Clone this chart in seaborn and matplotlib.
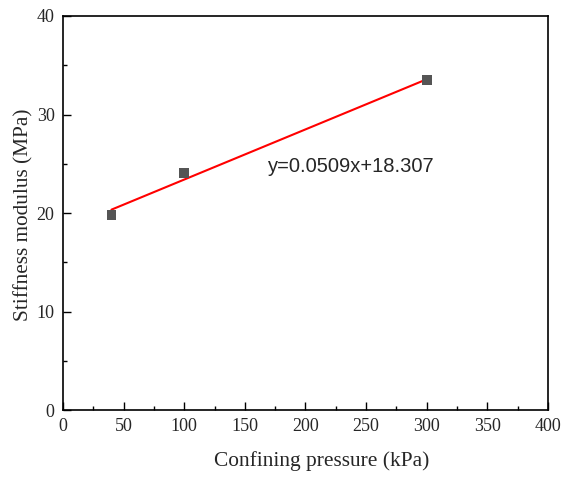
import matplotlib
matplotlib.use("Agg")
import matplotlib.pyplot as plt
import seaborn as sns
import pandas as pd
from matplotlib.ticker import MultipleLocator

pressure = [40, 100, 300]
modulus = [19.8, 24.1, 33.5]
fit_x = [40, 300]
fit_y = [20.34, 33.58]
fit_label = "y=0.0509x+18.307"

sns.set_theme(style="ticks")
plt.rcParams['font.family'] = ['Liberation Serif', 'DejaVu Serif']

fig = plt.figure(figsize=(5.67, 4.79), dpi=100)
ax = fig.add_axes([0.111, 0.144, 0.8555, 0.8226])

df = pd.DataFrame({"p": pressure, "m": modulus})
fit = pd.DataFrame({"x": fit_x, "y": fit_y})
sns.lineplot(data=fit, x="x", y="y", ax=ax, color="red", linewidth=1.5)
sns.scatterplot(data=df, x="p", y="m", ax=ax, marker="s", s=50, color="#555555",
                edgecolor="none", zorder=3)

ax.set_xlim(0, 400)
ax.set_ylim(0, 40)
ax.xaxis.set_major_locator(MultipleLocator(50))
ax.xaxis.set_minor_locator(MultipleLocator(25))
ax.yaxis.set_major_locator(MultipleLocator(10))
ax.yaxis.set_minor_locator(MultipleLocator(5))
ax.tick_params(which="both", direction="in", top=False, right=False, labelsize=13,
               color="black", width=1.0, pad=6)
ax.tick_params(which="major", length=6)
ax.tick_params(which="minor", length=3)
for s in ax.spines.values():
    s.set_color("black")
    s.set_linewidth(1.2)

ax.set_xlabel("Confining pressure (kPa)", fontsize=15.4)
ax.set_ylabel("Stiffness modulus (MPa)", fontsize=15.3)
ax.xaxis.set_label_coords(0.534, -0.105)
ax.yaxis.set_label_coords(-0.06, 0.495)

ax.text(169, 24.7, fit_label, fontsize=14.5, family=['Liberation Sans', 'DejaVu Sans'],
        va="center", ha="left")

fig.savefig("out.png", dpi=100)
